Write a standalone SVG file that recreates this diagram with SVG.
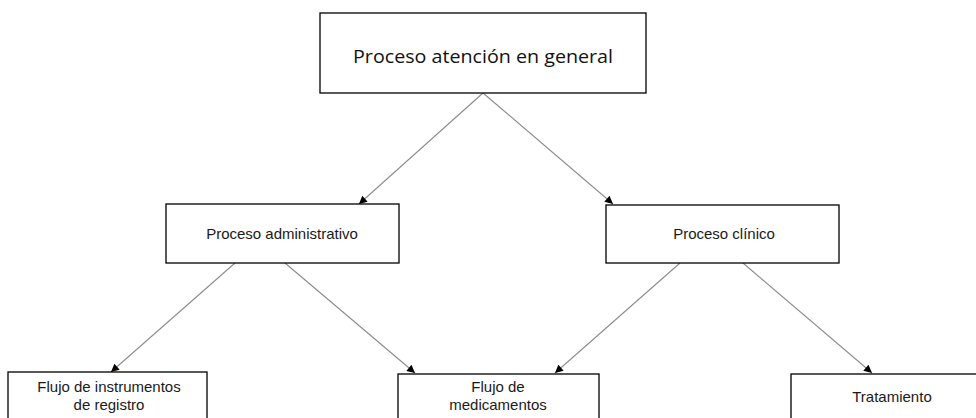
<svg xmlns="http://www.w3.org/2000/svg" width="976" height="418" viewBox="0 0 976 418">
<style>
.box{fill:#fff;stroke:#000;stroke-width:1.3}
.t{font-family:"Liberation Sans",Arial,sans-serif;font-size:15px;fill:#1a1a1a;text-anchor:middle}
.top{font-family:"Open Sans","Noto Sans",sans-serif;font-size:18.5px;fill:#111;text-anchor:middle}
.c{stroke:#8c8c8c;stroke-width:1.1;fill:none;marker-end:url(#ah)}
</style>
<defs>
<marker id="ah" viewBox="0 0 10 10" refX="10" refY="5" markerWidth="9" markerHeight="8" markerUnits="userSpaceOnUse" orient="auto">
<path d="M0,0 L10,5 L0,10 z" fill="#000"/>
</marker>
</defs>
<rect width="976" height="418" fill="#fff"/>
<g id="connectors">
<line class="c" x1="483" y1="93" x2="359" y2="204"/>
<line class="c" x1="483" y1="93" x2="613" y2="204"/>
<line class="c" x1="235" y1="263" x2="111" y2="372"/>
<line class="c" x1="285" y1="263" x2="415" y2="373"/>
<line class="c" x1="680" y1="263" x2="555" y2="373"/>
<line class="c" x1="743" y1="263" x2="872" y2="373"/>
</g>
<g id="n-general">
<rect class="box" x="320" y="13" width="326" height="80"/>
<text class="top" x="483" y="63" textLength="260" lengthAdjust="spacingAndGlyphs">Proceso atención en general</text>
</g>
<g id="n-administrativo">
<rect class="box" x="166" y="204" width="233" height="59"/>
<text class="t" x="282" y="239">Proceso administrativo</text>
</g>
<g id="n-clinico">
<rect class="box" x="606" y="205" width="233" height="58"/>
<text class="t" x="724" y="239">Proceso clínico</text>
</g>
<g id="n-instrumentos">
<rect class="box" x="8" y="372" width="199" height="50"/>
<text class="t" x="109" y="392">Flujo de instrumentos</text>
<text class="t" x="109" y="410">de registro</text>
</g>
<g id="n-medicamentos">
<rect class="box" x="398" y="374" width="201" height="50"/>
<text class="t" x="498" y="392">Flujo de</text>
<text class="t" x="498" y="410">medicamentos</text>
</g>
<g id="n-tratamiento">
<rect class="box" x="791" y="374" width="200" height="50"/>
<text class="t" x="892" y="402">Tratamiento</text>
</g>
</svg>
